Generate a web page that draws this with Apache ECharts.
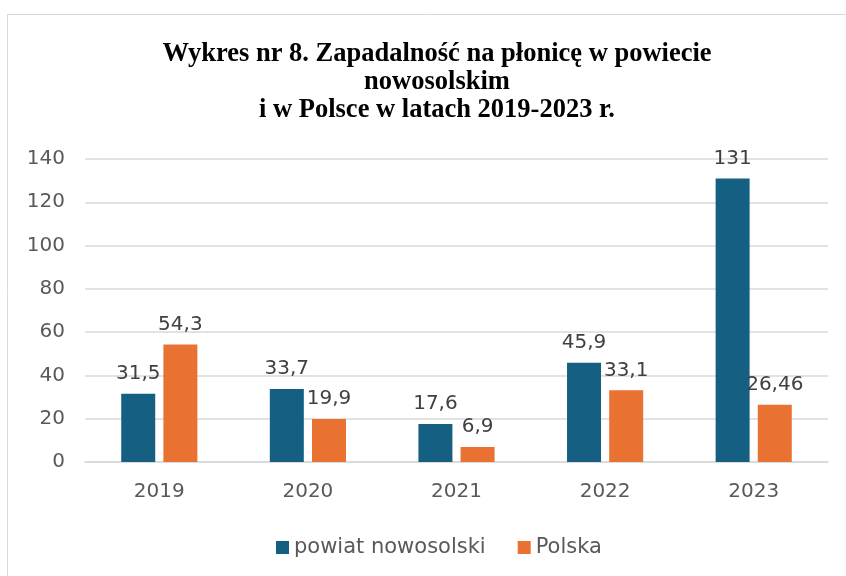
<!DOCTYPE html>
<html><head><meta charset="utf-8">
<script src="https://cdn.jsdelivr.net/npm/echarts@6/dist/echarts.min.js"></script>
<style>html,body{margin:0;padding:0;background:#fff}#c{width:846px;height:576px}</style>
</head><body><div id="c"></div>
<script>
const categories = ['2019','2020','2021','2022','2023'];
const powiat = [31.5, 33.7, 17.6, 45.9, 131];
const polska = [54.3, 19.9, 6.9, 33.1, 26.46];
const seriesNames = ['powiat nowosolski','Polska'];
const titleText = 'Wykres nr 8. Zapadalność na płonicę w powiecie\nnowosolskim\ni w Polsce w latach 2019-2023 r.';

const chart = echarts.init(document.getElementById('c'), null, {renderer:'canvas'});
const fmt = p => String(p.value).replace('.', ',');
const FONT = 'DejaVu Sans';
const labelStyle = {show:true, position:'top', distance:10, fontFamily:FONT, fontSize:20, color:'#404040', formatter: fmt};
chart.setOption({
  animation:false,
  graphic:[{type:'rect', shape:{x:7.5,y:14.5,width:900,height:700}, style:{fill:'none', stroke:'#d9d9d9', lineWidth:1}}],
  title:{text:titleText, left:432, textAlign:'center', top:35, textStyle:{fontFamily:'Liberation Serif', fontWeight:'bold', fontSize:26.5, color:'#000', lineHeight:28}},
  legend:{bottom:13, left:271, itemWidth:13, itemHeight:13, itemGap:32, icon:'rect', textStyle:{fontFamily:FONT, fontSize:21, color:'#595959'}, data:seriesNames},
  grid:{left:85, right:18, top:159, bottom:114},
  xAxis:{type:'category', data:categories, axisTick:{show:false}, axisLine:{lineStyle:{color:'#d9d9d9', width:1.5}}, axisLabel:{fontFamily:FONT, fontSize:20, color:'#595959', margin:20}},
  yAxis:{type:'value', min:0, max:140, interval:20, axisLine:{show:false}, axisTick:{show:false}, splitLine:{lineStyle:{color:'#d9d9d9', width:1.5}}, axisLabel:{fontFamily:FONT, fontSize:20, color:'#595959', margin:20}},
  series:[
    {name:seriesNames[0], type:'bar', data:powiat, barWidth:34, barGap:'24%', itemStyle:{color:'#156082'}, label:labelStyle},
    {name:seriesNames[1], type:'bar', data:polska, barWidth:34, itemStyle:{color:'#E97132'}, label:labelStyle}
  ]
});
</script></body></html>
